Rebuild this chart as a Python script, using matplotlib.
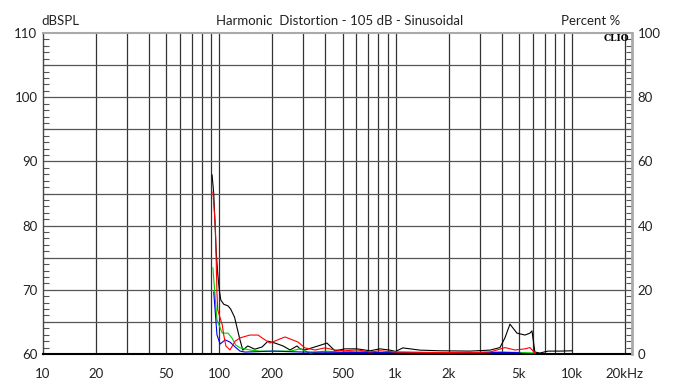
import numpy as np
import matplotlib.pyplot as plt
import matplotlib.ticker as ticker

# harmonic distortion curves, frequency in Hz, level in percent
black_f = [91, 93, 96, 98, 100, 102, 106, 112, 116, 122, 131, 136, 145, 159, 175, 189, 207,
           230, 252, 276, 287, 306, 349, 408, 453, 516, 604, 716, 815, 929, 1000, 1100, 1375,
           1785, 2642, 3428, 3908, 4170, 4456, 4880, 5420, 5785, 5940, 6170, 6590, 7318,
           8551, 10014]
black_p = [55.8, 50, 32, 25, 20, 16.8, 15.5, 15, 14, 11.5, 4.4, 1.2, 2.5, 1.5, 2.2, 4.0, 3.4,
           2.5, 1.25, 2.5, 1.6, 1.25, 2.2, 3.4, 1.0, 1.6, 1.6, 1.0, 1.6, 1.2, 0.8, 1.9, 1.2,
           1.0, 0.9, 1.2, 2.0, 5.0, 9.3, 6.5, 5.9, 6.5, 7.2, 0.6, 0.3, 0.9,
           0.9, 1.0]

red_f = [92, 95, 97, 98, 104, 106, 109, 115, 123, 131, 149, 166, 175, 194, 221, 236, 252, 280,
         306, 349, 398, 453, 516, 604, 716, 815, 1000, 1375, 2642, 3428, 4174, 4755, 5420,
         5785, 6170]
red_p = [50.5, 40, 19, 13.7, 9.0, 5.9, 2.5, 1.25, 4.0, 5.0, 5.9, 5.9, 5.0, 3.4, 4.7, 5.3, 4.7,
         3.7, 1.9, 1.25, 1.9, 1.25, 1.0, 1.3, 0.6, 1.0, 0.6, 0.5, 0.4, 0.6, 2.0, 1.25, 1.6,
         2.0, 0.3]

green_f = [92, 97, 104, 112, 118, 124, 131, 149, 170, 252, 287, 327, 400, 500, 600, 800, 1000,
           2000, 3000, 4000, 5000, 6170]
green_p = [26.8, 10.6, 6.5, 6.5, 5.0, 2.8, 1.9, 1.25, 0.9, 0.9, 1.6, 0.3, 0.9, 0.6, 0.9, 0.5,
           0.6, 0.4, 0.5, 0.6, 0.5, 0.3]

blue_f = [93, 97, 101, 108, 115, 123, 131, 140, 200, 300, 500, 1000, 2000, 4000, 5077]
blue_p = [19.3, 6.0, 3.1, 4.4, 3.7, 2.2, 0.9, 0.6, 0.9, 0.6, 0.5, 0.4, 0.4, 0.5, 0.4]

x_ticks = [10, 20, 50, 100, 200, 500, 1000, 2000, 5000, 10000, 20000]
x_labels = ['10', '20', '50', '100', '200', '500', '1k', '2k', '5k', '10k', '20kHz']
db_ticks = [60, 70, 80, 90, 100, 110]
pct_ticks = [0, 20, 40, 60, 80, 100]

plt.rcParams['font.family'] = ['Lato', 'DejaVu Sans']

fig = plt.figure(figsize=(6.73, 3.89), dpi=100)
ax = fig.add_axes([0.0639, 0.09, 0.875, 0.825])
ax.set_xscale('log')
ax.set_xlim(10, 21900)
ax.set_ylim(60, 110)

# vertical grid at every 1-2-3...9 step of each decade
grid_f = [m * 10 ** d for d in range(1, 5) for m in range(1, 10) if 10 < m * 10 ** d <= 20000]
for f in grid_f:
    ax.axvline(f, color='#333333', lw=0.9, zorder=1)
for v in np.arange(65, 110, 5):
    ax.axhline(v, color='#555555', lw=0.9, zorder=1)

ax.set_xticks(x_ticks)
ax.set_xticklabels(x_labels)
ax.xaxis.set_minor_locator(ticker.NullLocator())
ax.set_yticks(db_ticks)
ax.yaxis.set_minor_locator(ticker.MultipleLocator(1))
ax.tick_params(axis='x', length=0, pad=10, labelsize=9.5, colors='#222222')
ax.tick_params(axis='y', which='major', length=0, pad=4, labelsize=9.5, colors='#222222')
ax.tick_params(axis='y', which='minor', direction='in', length=4, width=0.8, color='#555555')

ax.spines['bottom'].set_color('black')
ax.spines['bottom'].set_linewidth(1.5)
ax.spines['left'].set_color('#444444')
ax.spines['left'].set_linewidth(1.0)
ax.spines['top'].set_color('#aaaaaa')
ax.spines['top'].set_linewidth(1.5)
ax.spines['right'].set_visible(False)

ax2 = ax.twinx()
ax2.set_ylim(0, 100)
ax2.set_yticks(pct_ticks)
ax2.yaxis.set_minor_locator(ticker.MultipleLocator(2))
ax2.tick_params(axis='y', which='major', length=0, pad=4, labelsize=9.5, colors='#222222')
ax2.tick_params(axis='y', which='minor', direction='in', length=4, width=0.8, color='#555555')
for side in ['top', 'bottom', 'left']:
    ax2.spines[side].set_visible(False)
ax2.spines['right'].set_color('#aaaaaa')
ax2.spines['right'].set_linewidth(2)

ax2.plot(black_f, black_p, color='black', lw=0.8, zorder=3)
ax2.plot(green_f, green_p, color='#00cc00', lw=0.8, zorder=3)
ax2.plot(blue_f, blue_p, color='#0000ee', lw=0.8, zorder=3)
ax2.plot(red_f, red_p, color='#ff0000', lw=0.8, zorder=3)

fig.text(0.062, 0.945, 'dBSPL', fontsize=9.5, color='#222222', va='center')
fig.text(0.505, 0.945, 'Harmonic  Distortion - 105 dB - Sinusoidal', fontsize=9.5,
         color='#222222', ha='center', va='center')
fig.text(0.922, 0.945, 'Percent %', fontsize=9.5, color='#222222', ha='right', va='center')
fig.text(0.935, 0.9, 'CLIO', fontsize=6.5, fontweight='bold', family='DejaVu Serif',
         ha='right', va='center')

fig.savefig('out.png', dpi=100)
